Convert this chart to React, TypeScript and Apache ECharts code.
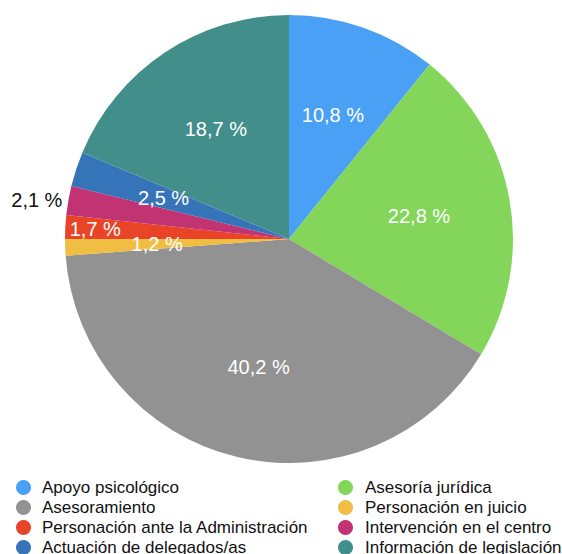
import React, { useEffect, useRef } from "react";
import * as echarts from "echarts";

const categories = [
  "Apoyo psicológico",
  "Asesoría jurídica",
  "Asesoramiento",
  "Personación en juicio",
  "Personación ante la Administración",
  "Intervención en el centro",
  "Actuación de delegados/as",
  "Información de legislación",
];
const values = [10.8, 22.8, 40.2, 1.2, 1.7, 2.1, 2.5, 18.7];
const colors = ["#4aa0f5", "#83d65a", "#929292", "#efbe42", "#e94428", "#c23374", "#3574b8", "#418e8b"];

const fmt = (v: number) => v.toFixed(1).replace(".", ",") + " %";

const CENTER = [289, 239];
const R = 224;
const FONT = "'Liberation Sans', Arial, Helvetica, sans-serif";
const LABEL_SIZE = 20;

export default function App() {
  const ref = useRef<HTMLDivElement>(null);
  useEffect(() => {
    const chart = echarts.init(ref.current!, null, { renderer: "svg" });
    const baseData = categories.map((name, i) => ({ name, value: values[i] }));
    const legendBase = {
      orient: "vertical",
      top: 479,
      height: 200,
      padding: 0,
      itemWidth: 15,
      itemHeight: 15,
      itemGap: 3,
      icon: "circle",
      selectedMode: false,
    };
    chart.setOption({
      animation: false,
      color: colors,
      legend: [
        {
          ...legendBase,
          id: "l1",
          left: 16,
          data: [categories[0], categories[2], categories[4], categories[6]],
          textStyle: { fontFamily: FONT, fontSize: 17, lineHeight: 17, color: "#111", padding: [0, 0, 0, 6] },
        },
        {
          ...legendBase,
          id: "l2",
          left: 338,
          data: [categories[1], categories[3], categories[5], categories[7]],
          textStyle: { fontFamily: FONT, fontSize: 17, lineHeight: 17, color: "#111", padding: [0, 0, 0, 7] },
        },
      ],
      series: [
        {
          type: "pie",
          center: CENTER,
          radius: [0, R],
          startAngle: 90,
          clockwise: true,
          silent: true,
          itemStyle: { borderWidth: 0 },
          label: { show: false },
          labelLine: { show: false },
          data: baseData.map((d, i) =>
            i === 5
              ? {
                  ...d,
                  label: {
                    show: true,
                    position: "outside",
                    formatter: (p: any) => fmt(p.value),
                    color: "#111",
                    fontFamily: FONT,
                    fontSize: LABEL_SIZE,
                    distanceToLabelLine: 1,
                  },
                  labelLine: { show: false, length: 5, length2: 0 },
                }
              : d
          ),
        },
        {
          type: "pie",
          center: CENTER,
          radius: [34, R],
          startAngle: 90,
          clockwise: true,
          silent: true,
          legendHoverLink: false,
          itemStyle: { color: "transparent", borderWidth: 0 },
          label: {
            show: true,
            position: "inside",
            formatter: (p: any) => fmt(p.value),
            color: "#fff",
            fontFamily: FONT,
            fontSize: LABEL_SIZE,
          },
          labelLine: { show: false },
          data: baseData.map((d, i) => (i === 4 || i === 5 ? { ...d, label: { show: false } } : d)),
        },
        {
          type: "pie",
          center: CENTER,
          radius: [158, R],
          startAngle: 90,
          clockwise: true,
          silent: true,
          legendHoverLink: false,
          itemStyle: { color: "transparent", borderWidth: 0 },
          label: {
            show: false,
            position: "inside",
            formatter: (p: any) => fmt(p.value),
            color: "#fff",
            fontFamily: FONT,
            fontSize: LABEL_SIZE,
          },
          labelLine: { show: false },
          data: baseData.map((d, i) => (i === 4 ? { ...d, label: { show: true } } : d)),
        },
      ],
    });
    return () => chart.dispose();
  }, []);
  return <div ref={ref} style={{ width: 562, height: 554, position: "absolute", left: 0, top: 0 }} />;
}
